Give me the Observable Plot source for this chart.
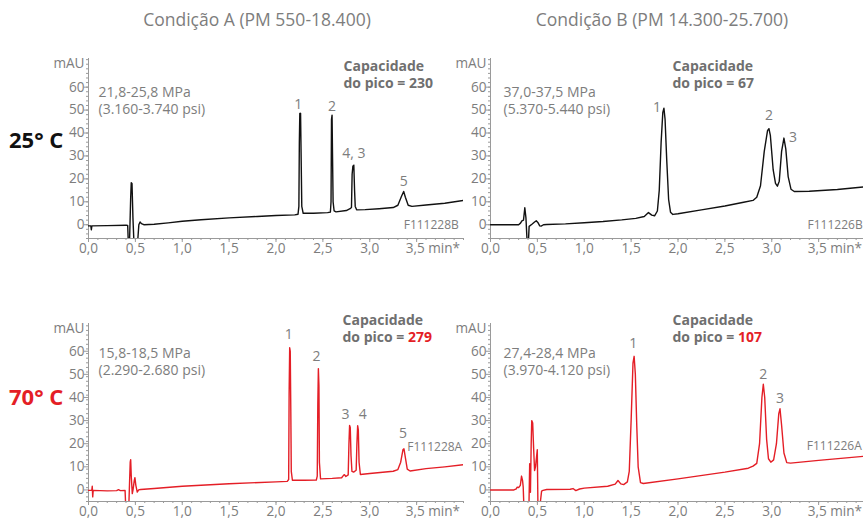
<!DOCTYPE html>
<html><head><meta charset="utf-8">
<script src="https://cdn.jsdelivr.net/npm/d3@7"></script>
<script src="https://cdn.jsdelivr.net/npm/@observablehq/plot@0.6"></script>
<style>
body{margin:0;overflow:hidden;background:#fff;font-family:"Open Sans",sans-serif;}
#root{position:relative;width:863px;height:519px;overflow:hidden;}
.abs{position:absolute;white-space:nowrap;}
</style></head><body><div id="root"></div>
<script>
// ---------- data ----------
const conditions = ["Condição A (PM 550-18.400)", "Condição B (PM 14.300-25.700)"];
const temperatures = ["25° C", "70° C"];
const xTicks = [0, 0.5, 1.0, 1.5, 2.0, 2.5, 3.0, 3.5];
const xTickLabels = ["0,0", "0,5", "1,0", "1,5", "2,0", "2,5", "3,0", "3,5 min*"];
const yTicks = [0, 10, 20, 30, 40, 50, 60];
const yUnit = "mAU";

const pressureA25 = ["21,8-25,8 MPa", "(3.160-3.740 psi)"];
const pressureB25 = ["37,0-37,5 MPa", "(5.370-5.440 psi)"];
const pressureA70 = ["15,8-18,5 MPa", "(2.290-2.680 psi)"];
const pressureB70 = ["27,4-28,4 MPa", "(3.970-4.120 psi)"];
const capacityA25 = 230, capacityB25 = 67, capacityA70 = 279, capacityB70 = 107;
const codeA25 = "F111228B", codeB25 = "F111226B", codeA70 = "F111228A", codeB70 = "F111226A";

// chromatogram A, 25 °C (time min, mAU)
const timeA25 = [0,0.025,0.03,0.036,0.2,0.4,0.418,0.424,0.438,0.45,0.456,0.464,0.474,0.484,0.525,0.537,0.55,0.565,0.59,0.7,0.85,1.0,1.2,1.5,1.8,2.0,2.2,2.235,2.244,2.249,2.254,2.262,2.268,2.275,2.29,2.4,2.55,2.58,2.587,2.592,2.598,2.603,2.609,2.62,2.64,2.75,2.79,2.805,2.812,2.82,2.83,2.838,2.845,2.86,2.95,3.1,3.25,3.3,3.34,3.362,3.38,3.41,3.45,3.6,3.8,4.0];
const mauA25  = [-0.5,-0.5,-2.2,-0.5,-0.4,-0.2,-0.3,-7,-7,12,18.3,18,3,-7,-7,0,1.2,0.5,0,0.2,0.8,1.5,2.2,3.0,3.6,4.0,4.3,4.6,8,36,48.5,48.6,30,8,5,5.0,5.3,5.5,10,46,47.8,30,10,6,5.6,6.2,7,7.5,22,25.5,26,15,8,6.5,6.6,7,7.5,8.5,12.5,14.5,12,8.5,8,8.6,9.4,10.6];
// chromatogram B, 25 °C
const timeB25 = [0,0.3,0.32,0.335,0.352,0.366,0.378,0.39,0.405,0.412,0.445,0.47,0.488,0.505,0.525,0.54,0.565,0.6,0.8,1.0,1.2,1.4,1.55,1.64,1.685,1.72,1.75,1.78,1.80,1.82,1.838,1.85,1.862,1.88,1.9,1.92,1.945,2.0,2.25,2.5,2.7,2.8,2.84,2.88,2.92,2.955,2.97,2.985,3.015,3.04,3.06,3.08,3.105,3.13,3.15,3.175,3.205,3.24,3.4,3.7,4.0];
const mauB25  = [0,0,0.7,1.7,2,7.4,3,-7,-7,-0.7,0.3,1.2,1.7,1.0,-0.5,-0.6,0,0.1,0.4,0.9,1.4,2.1,2.8,3.6,5.3,4.2,3.9,6,15,36,49,50.8,46,28,11,5.5,4.5,4.8,6.5,8.2,9.8,10.6,12,17,32,41,41.9,39,24,18,16.8,19,32,37.8,33,21,15.5,14.5,14.6,15.4,16.6];
// chromatogram A, 70 °C
const timeA70 = [0,0.035,0.04,0.045,0.05,0.2,0.3,0.32,0.34,0.39,0.397,0.43,0.437,0.445,0.45,0.456,0.467,0.475,0.488,0.495,0.505,0.52,0.535,0.556,0.7,1.0,1.5,2.0,2.12,2.135,2.14,2.146,2.152,2.158,2.163,2.175,2.3,2.43,2.44,2.446,2.452,2.458,2.463,2.475,2.6,2.7,2.72,2.73,2.745,2.77,2.778,2.785,2.792,2.8,2.81,2.828,2.855,2.863,2.871,2.878,2.886,2.9,3.0,3.25,3.3,3.33,3.355,3.365,3.38,3.4,3.43,3.6,3.8,4.0];
const mauA70  = [-0.2,-0.2,1.6,-3,-0.2,-0.4,-0.3,0.1,-0.3,-0.2,-7,-7,2,12,13.1,6,-1.6,0,4,5.3,2,-0.9,0,0.2,0.6,1.6,2.7,3.5,3.7,4.5,42,61.5,60,34,8,4.2,4.2,4.3,6,37,52.5,45,12,4.8,5,5.3,6.3,6.6,5.8,6.5,20,27.9,27,15,8,7.7,8.5,20,27.8,26,12,6.7,7.1,8.1,8.8,12,17.5,17.8,14,9,8.2,9.2,10,10.9];
// chromatogram B, 70 °C
const timeB70 = [0,0.25,0.275,0.285,0.3,0.318,0.331,0.342,0.349,0.356,0.41,0.418,0.426,0.434,0.44,0.45,0.46,0.47,0.48,0.499,0.506,0.527,0.545,0.56,0.6,0.85,0.88,0.91,0.95,1.0,1.25,1.33,1.36,1.39,1.42,1.46,1.48,1.5,1.52,1.532,1.545,1.56,1.575,1.6,1.63,2.0,2.5,2.75,2.8,2.84,2.87,2.895,2.91,2.925,2.945,2.965,2.99,3.02,3.05,3.075,3.088,3.105,3.13,3.16,3.2,3.5,4.0];
const mauB70  = [0,0,0.5,1.2,1.0,2,6,4,1.2,-7,-7,11.3,-1,20,30,29,18,8.4,10,17.4,-7,-7,-0.5,-0.2,0.2,0.3,0.6,-0.3,0.4,0.8,1.6,2.5,4.1,2.6,2.3,3.5,8,30,55,57.8,50,28,10,3.2,2.8,4.8,7.7,9.4,10.3,11.5,20,40,45.7,40,22,13.5,12,13,20,33,35.1,28,16,11.8,11.6,12.8,14.6];

// peak labels
const peakLabelsA25 = ["1", "2", "4, 3", "5"], peakTimesA25 = [2.258, 2.598, 2.83, 3.362], peakHeightsA25 = [48.6, 47.8, 26, 14.5];
const peakLabelsB25 = ["1", "2", "3"], peakTimesB25 = [1.85, 2.97, 3.13], peakHeightsB25 = [50.8, 41.9, 37.8];
const peakLabelsA70 = ["1", "2", "3", "4", "5"], peakTimesA70 = [2.146, 2.452, 2.785, 2.871, 3.365], peakHeightsA70 = [61.5, 52.5, 27.9, 27.8, 17.8];
const peakLabelsB70 = ["1", "2", "3"], peakTimesB70 = [1.532, 2.91, 3.088], peakHeightsB70 = [57.8, 45.7, 35.1];

// ---------- styling / layout ----------
const GRAY = "#7d7d7d", AXIS = "#9a9a9a", BLACK = "#111", RED = "#e41e26";
const FONT = "'Open Sans', sans-serif";
const root = document.getElementById("root");

function addDiv(text, css) {
  const d = document.createElement("div");
  d.className = "abs"; d.textContent = text;
  Object.assign(d.style, css);
  root.appendChild(d);
}
addDiv(conditions[0], {left: "57px", width: "400px", textAlign: "center", top: "7px", fontSize: "17.5px", color: GRAY});
addDiv(conditions[1], {left: "462px", width: "400px", textAlign: "center", top: "7px", fontSize: "17.5px", color: GRAY});
addDiv(temperatures[0], {left: "9px", top: "124px", fontSize: "22px", fontWeight: "bold", color: BLACK});
addDiv(temperatures[1], {left: "9px", top: "381px", fontSize: "22px", fontWeight: "bold", color: RED});

function panel(cfg) {
  const mL = 40, mR = 0, mT = 16, mB = 26;
  const W = 375;
  const rows = cfg.time.map((t, i) => ({t, v: cfg.mau[i]}));
  const peaks = cfg.peakLabels.map((l, i) => ({l, t: cfg.peakTimes[i], v: cfg.peakHeights[i]}));
  const minorX = d3.range(0, 40.5, 1).map(d => d / 10);
  const minorY = d3.range(cfg.ydom[0], cfg.ydom[1] + 0.01, 2);
  const txt = {fill: GRAY, fontSize: 14, fontFamily: FONT, lineAnchor: "middle"};
  const marks = [
    Plot.ruleX([0], {stroke: AXIS}),
    Plot.ruleY([cfg.ydom[0]], {stroke: AXIS}),
    Plot.axisX({ticks: minorX, tickSize: 2, tickFormat: () => "", stroke: AXIS, label: null}),
    Plot.axisX({ticks: xTicks, tickSize: 4, tickFormat: () => "", stroke: AXIS, label: null}),
    Plot.axisY({ticks: minorY, tickSize: 2, tickFormat: () => "", stroke: AXIS, label: null}),
    Plot.axisY({ticks: yTicks, tickSize: 4, tickFormat: () => "", stroke: AXIS, label: null}),
    Plot.text(xTicks.slice(0, 7), {...txt, fontSize: 13.6, x: d => d, text: (d, i) => xTickLabels[i], frameAnchor: "bottom", dy: 10}),
    Plot.text(xTicks.slice(7), {...txt, fontSize: 13.6, x: d => d, text: () => xTickLabels[7], frameAnchor: "bottom", textAnchor: "start", dx: -11, dy: 10}),
    Plot.text(yTicks, {...txt, fontSize: 13.6, y: d => d, text: d => String(d), frameAnchor: "left", textAnchor: "end", dx: -4}),
    Plot.text([yUnit], {...txt, fontSize: 13.6, text: d => d, frameAnchor: "top-left", textAnchor: "end", dx: -4, dy: 5}),
    Plot.text([cfg.pressure[0]], {...txt, text: d => d, frameAnchor: "top-left", textAnchor: "start", dx: cfg.pdx, dy: cfg.pdy}),
    Plot.text([cfg.pressure[1]], {...txt, text: d => d, frameAnchor: "top-left", textAnchor: "start", dx: cfg.pdx, dy: cfg.pdy + 17.5}),
    Plot.text(["Capacidade"], {...txt, text: d => d, frameAnchor: "top-left", textAnchor: "start", dx: cfg.cdx, dy: cfg.cdy, fill: "#6f6f6f", fontWeight: "bold"}),
    Plot.text(["do pico = " + cfg.capacity], {...txt, text: d => d, frameAnchor: "top-left", textAnchor: "start", dx: cfg.cdx, dy: cfg.cdy + 17.5, fill: "#6f6f6f", fontWeight: "bold"}),
    Plot.text([cfg.code], {...txt, text: d => d, x: cfg.codeAt[0], y: cfg.codeAt[1], textAnchor: cfg.codeAnchor, fontSize: 12}),
    Plot.line(rows, {x: "t", y: "v", stroke: cfg.color, strokeWidth: 1.4, clip: true}),
  ];
  peaks.forEach((p, i) => {
    marks.push(Plot.text([p], {...txt, x: "t", y: "v", text: "l", dx: cfg.ldx[i], dy: cfg.ldy[i]}));
  });
  const svg = Plot.plot({
    width: mL + W + mR, height: mT + cfg.h + mB,
    marginLeft: mL, marginRight: mR, marginTop: mT, marginBottom: mB,
    x: {domain: [0, 4], axis: null},
    y: {domain: cfg.ydom, axis: null},
    style: {fontFamily: FONT, fontSize: "14px", color: AXIS, background: "transparent", overflow: "visible"},
    marks
  });
  // colour the capacity number
  d3.select(svg).selectAll("text").filter(function () { return this.textContent === "do pico = " + cfg.capacity; })
    .each(function () {
      const el = d3.select(this);
      el.text("");
      el.append("tspan").text("do pico = ");
      el.append("tspan").attr("fill", cfg.capColor).text(String(cfg.capacity));
    });
  svg.style.position = "absolute";
  svg.style.left = (cfg.x0 - mL) + "px";
  svg.style.top = (cfg.y0 - mT) + "px";
  root.appendChild(svg);
}

panel({time: timeA25, mau: mauA25, color: BLACK, x0: 88, y0: 58, h: 180, ydom: [-6, 72.5],
  pressure: pressureA25, pdx: 10, pdy: 34, capacity: capacityA25, capColor: "#6f6f6f", cdx: 255, cdy: 8,
  code: codeA25, codeAt: [3.95, 0], codeAnchor: "end",
  peakLabels: peakLabelsA25, peakTimes: peakTimesA25, peakHeights: peakHeightsA25, ldx: [-2, 0, 0, 0], ldy: [-9, -9, -12, -10]});
panel({time: timeB25, mau: mauB25, color: BLACK, x0: 490, y0: 58, h: 180, ydom: [-6, 72.5],
  pressure: pressureB25, pdx: 13, pdy: 34, capacity: capacityB25, capColor: "#6f6f6f", cdx: 182, cdy: 8,
  code: codeB25, codeAt: [3.97, 0], codeAnchor: "end",
  peakLabels: peakLabelsB25, peakTimes: peakTimesB25, peakHeights: peakHeightsB25, ldx: [-7, 0, 9], ldy: [-1, -13, -1]});
panel({time: timeA70, mau: mauA70, color: RED, x0: 88, y0: 323, h: 178, ydom: [-5, 72],
  pressure: pressureA70, pdx: 10, pdy: 30, capacity: capacityA70, capColor: RED, cdx: 254, cdy: -3,
  code: codeA70, codeAt: [3.40, 18.4], codeAnchor: "start",
  peakLabels: peakLabelsA70, peakTimes: peakTimesA70, peakHeights: peakHeightsA70, ldx: [-1, -2, -4, 5, -1], ldy: [-13, -12, -11, -11, -15]});
panel({time: timeB70, mau: mauB70, color: RED, x0: 490, y0: 323, h: 178, ydom: [-5, 72],
  pressure: pressureB70, pdx: 13, pdy: 30, capacity: capacityB70, capColor: RED, cdx: 182, cdy: -3,
  code: codeB70, codeAt: [3.96, 18.8], codeAnchor: "end",
  peakLabels: peakLabelsB70, peakTimes: peakTimesB70, peakHeights: peakHeightsB70, ldx: [-1, 0, 0], ldy: [-13, -10, -10]});
</script></body></html>
